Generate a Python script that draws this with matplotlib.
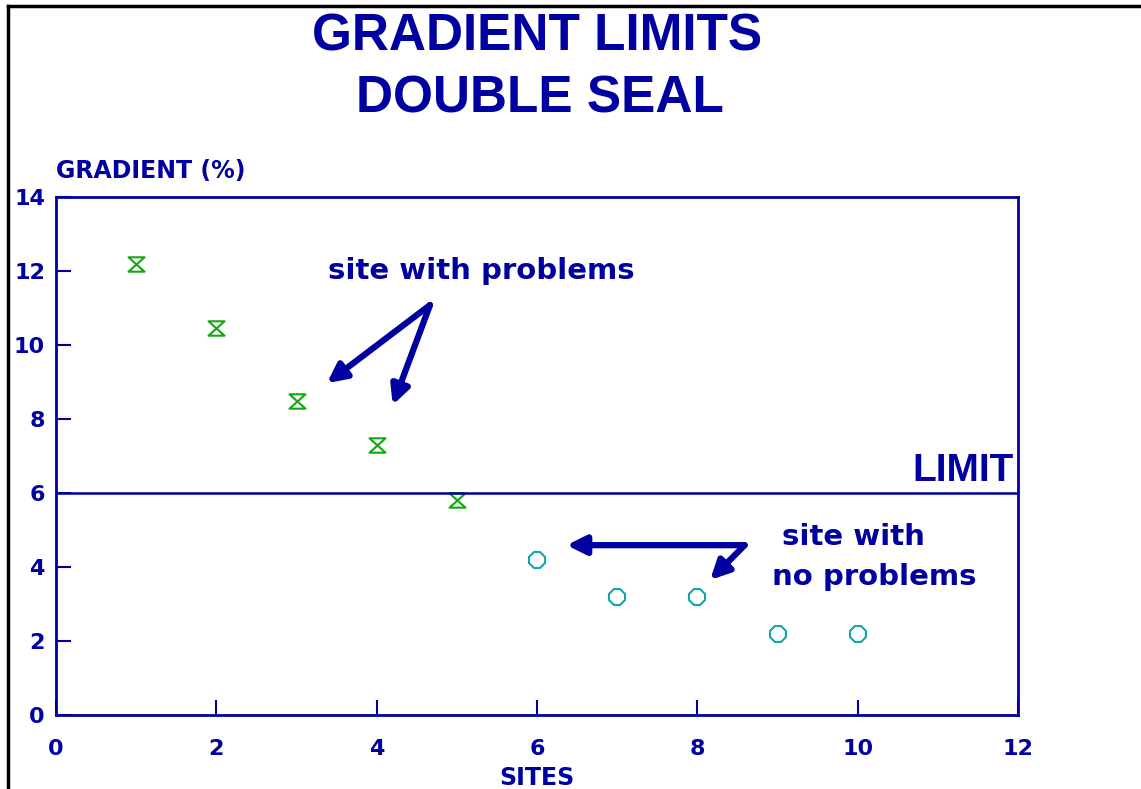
import numpy as np
import matplotlib
matplotlib.use("Agg")
import matplotlib.pyplot as plt
from matplotlib.path import Path
from matplotlib.lines import Line2D

# data
sites_problem = [1, 2, 3, 4, 5]
grad_problem = [12.2, 10.45, 8.5, 7.3, 5.8]
sites_ok = [6, 7, 8, 9, 10]
grad_ok = [4.2, 3.2, 3.2, 2.2, 2.2]
limit = 6
xticks = [0, 2, 4, 6, 8, 10, 12]
yticks = [0, 2, 4, 6, 8, 10, 12, 14]

navy = '#0000a0'
green = '#10a810'
teal = '#10a8a8'
wide = ['DejaVu Sans']          # wider letters, closer to the old plotter font
narrow = ['Liberation Sans', 'DejaVu Sans']

plt.rcParams['font.family'] = wide
plt.rcParams['font.weight'] = 'bold'

fig = plt.figure(figsize=(11.41, 7.89), dpi=100)
ax = fig.add_axes([0.0491, 0.0938, 0.8431, 0.6565])

# hourglass marker
hourglass = Path([(-1, 0.9), (1, 0.9), (-1, -0.9), (1, -0.9), (-1, 0.9)],
                 [Path.MOVETO, Path.LINETO, Path.LINETO, Path.LINETO, Path.CLOSEPOLY])

ax.plot(sites_problem, grad_problem, linestyle='none', marker=hourglass,
        markersize=11.5, markerfacecolor='none', markeredgecolor=green, markeredgewidth=1.5)
ax.plot(sites_ok, grad_ok, linestyle='none', marker='8',
        markersize=13, markerfacecolor='none', markeredgecolor=teal, markeredgewidth=1.5)

ax.axhline(limit, color=navy, lw=1.8)
ax.text(11.95, 6.32, 'LIMIT', color=navy, fontsize=28, fontweight='bold',
        family=narrow, ha='right', va='baseline')

ax.set_xlim(0, 12)
ax.set_ylim(0, 14)
ax.set_xticks(xticks)
ax.set_yticks(yticks)
ax.tick_params(direction='in', length=11, width=1.5, color=navy, labelcolor=navy,
               labelsize=16)
ax.tick_params(axis='x', pad=17)
ax.tick_params(axis='y', pad=8)
for lab in ax.get_xticklabels() + ax.get_yticklabels():
    lab.set_fontweight('bold')
for sp in ax.spines.values():
    sp.set_color(navy)
    sp.set_linewidth(2)

ax.set_xlabel('SITES', color=navy, fontsize=17, fontweight='bold')
ax.xaxis.set_label_coords(0.5, -0.1216)
ax.xaxis.label.set_va('center')
ax.text(0, 14.51, 'GRADIENT (%)', color=navy, fontsize=17, fontweight='bold',
        ha='left', va='baseline')

# annotations
arr = dict(arrowstyle='-|>', lw=4.5, color=navy, mutation_scale=28, shrinkA=0, shrinkB=0)
ax.text(5.30, 11.78, 'site with problems', color=navy, fontsize=21, fontweight='bold',
        ha='center', va='baseline')
ax.annotate('', xy=(3.38, 8.97), xytext=(4.665, 11.08), arrowprops=arr)
ax.annotate('', xy=(4.20, 8.38), xytext=(4.665, 11.08), arrowprops=arr)

ax.text(9.95, 4.59, 'site with', color=navy, fontsize=21, fontweight='bold',
        ha='center', va='baseline')
ax.text(10.21, 3.51, 'no problems', color=navy, fontsize=21, fontweight='bold',
        ha='center', va='baseline')
ax.annotate('', xy=(6.37, 4.59), xytext=(8.59, 4.59), arrowprops=arr)
ax.annotate('', xy=(8.16, 3.65), xytext=(8.59, 4.59), arrowprops=arr)

fig.text(0.4706, 0.9366, 'GRADIENT LIMITS', color=navy, fontsize=37, fontweight='bold',
         family=narrow, ha='center', va='baseline')
fig.text(0.4733, 0.858, 'DOUBLE SEAL', color=navy, fontsize=37, fontweight='bold',
         family=narrow, ha='center', va='baseline')

# page frame (left and top)
fig.add_artist(Line2D([0.0066, 0.0066], [0, 0.9924], color='black', lw=2.5,
                      transform=fig.transFigure))
fig.add_artist(Line2D([0.0066, 1], [0.9924, 0.9924], color='black', lw=2.5,
                      transform=fig.transFigure))

fig.savefig('out.png', dpi=100)
